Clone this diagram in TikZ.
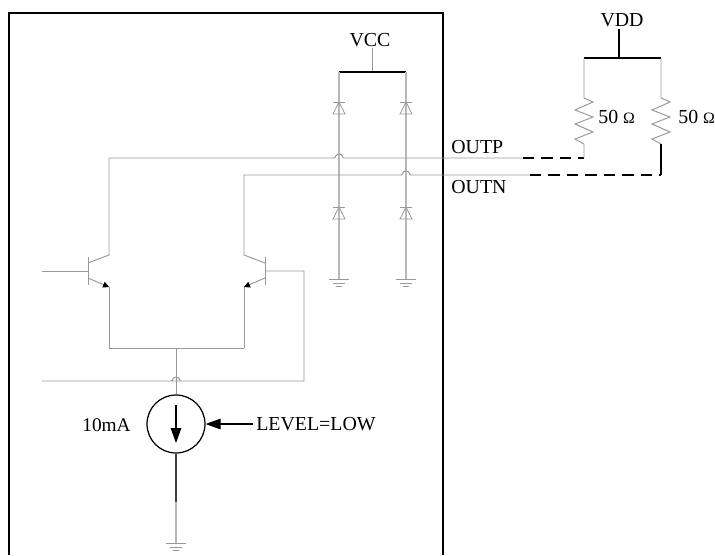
\documentclass[tikz,border=0pt]{standalone}
\usepackage{fontspec}
\setmainfont{Liberation Serif}
\usetikzlibrary{arrows.meta,calc}
\tikzset{
wire/.style={draw=black!40,line width=0.55pt},
rail/.style={draw=black!28,line width=0.9pt},
blackwire/.style={draw=black,line width=0.7pt},
dashwire/.style={draw=black,line width=0.7pt,dash pattern=on 6.5pt off 4pt},
framewire/.style={draw=black,line width=1.2pt},
lbl/.style={inner sep=0pt,font=\fontsize{11.3}{13}\selectfont},
emitter/.style={wire,-{Triangle[length=3.4pt,width=3.4pt,black]}},
diode/.pic={\draw[wire,line width=0.45pt] (-6,0) -- (6,0); \draw[wire,line width=0.45pt] (0,0) -- (-6,12) -- (6,12) -- cycle;},
gnd/.pic={\draw[wire,line width=0.45pt] (-10,0) -- (10,0) (-6,4) -- (6,4) (-3,7) -- (3,7);}
}
\newcommand{\hopover}[1]{-- ($(#1)+(-5,0)$) .. controls ($(#1)+(-3,0)$) and ($(#1)+(-4,-4)$) .. ($(#1)+(0,-4)$) .. controls ($(#1)+(4,-4)$) and ($(#1)+(3,0)$) .. ($(#1)+(5,0)$)}
\newcommand{\ohm}{{\fontsize{9}{11}\selectfont Ω}}
\begin{document}
\begin{tikzpicture}[x=0.02cm,y=-0.02cm]
\useasboundingbox (0,0) rectangle (715,555);
\coordinate (f1) at (9,555); \coordinate (f2) at (9,13); \coordinate (f3) at (443,13); \coordinate (f4) at (443,555);
\draw[framewire] (f1) -- (f2) -- (f3) -- (f4);

\node[lbl] (vcc) at (370,40) {VCC}; \node[lbl] (vdd) at (622,20) {VDD};
\node[lbl,anchor=west] (outp) at (451,147) {OUTP}; \node[lbl,anchor=west] (outn) at (451,187) {OUTN};
\node[lbl,anchor=west] (r1v) at (598,117) {50 \ohm}; \node[lbl,anchor=west] (r2v) at (678,117) {50 \ohm};
\node[lbl,anchor=west,font=\fontsize{11}{13}\selectfont] (ival) at (82,425) {10mA};
\node[lbl,anchor=west] (level) at (256,424) {LEVEL=LOW};
\node[draw,black,line width=0.7pt,circle,inner sep=0pt,minimum size=1.16cm] (src) at (176,424) {};

\coordinate (c1) at (372,48); \coordinate (c2) at (372,72); \coordinate (c3) at (339,72); \coordinate (c4) at (406,72);
\coordinate (g1) at (339,279); \coordinate (g2) at (406,279); \coordinate (g3) at (176,543); \coordinate (s1) at (176,502);
\draw[wire] (c1) -- (c2);
\draw[blackwire] (c3) -- (c4);
\draw[rail] (c3) -- (g1); \draw[rail] (c4) -- (g2);
\pic at (339,102) {diode}; \pic at (406,102) {diode}; \pic at (339,207) {diode}; \pic at (406,207) {diode};
\pic at (g1) {gnd}; \pic at (g2) {gnd}; \pic at (g3) {gnd};

\coordinate (q1b) at (88,271); \coordinate (q1i) at (42,271); \coordinate (q1t) at (88,257); \coordinate (q1d) at (88,285); \coordinate (q1c) at (88,263); \coordinate (q1e) at (88,278);
\coordinate (q1k) at (109,255); \coordinate (q1m) at (109,287); \coordinate (q1n) at (109,348); \coordinate (q1u) at (109,158);
\coordinate (q2b) at (265,271); \coordinate (q2t) at (265,257); \coordinate (q2d) at (265,285); \coordinate (q2c) at (265,263); \coordinate (q2e) at (265,278);
\coordinate (q2k) at (244,255); \coordinate (q2m) at (244,287); \coordinate (q2n) at (244,348); \coordinate (q2u) at (244,175);
\coordinate (h1) at (339,158); \coordinate (h2) at (406,175); \coordinate (h3) at (176,381);
\coordinate (p1) at (523,158); \coordinate (p2) at (584,158); \coordinate (n1) at (530,175); \coordinate (n2) at (661,175);
\coordinate (b1) at (304,271); \coordinate (b2) at (304,381); \coordinate (b3) at (42,381); \coordinate (j) at (176,348);

\draw[wire] (q1i) -- (q1b);
\draw[wire] (q1t) -- (q1d);
\draw[wire] (q1n) -- (q1m);
\draw[wire] (q1c) -- (q1k) -- (q1u) \hopover{h1} -- (p1);
\draw[emitter] (q1e) -- (q1m);
\draw[wire] (q2t) -- (q2d);
\draw[wire] (q2n) -- (q2m);
\draw[wire] (q2c) -- (q2k) -- (q2u) \hopover{h2} -- (n1);
\draw[emitter] (q2e) -- (q2m);
\draw[wire] (q1n) -- (q2n);
\draw[wire] (j) -- (src);
\draw[wire] (q2b) -- (b1) -- (b2) \hopover{h3} -- (b3);
\draw[dashwire] (p1) -- (p2);
\draw[dashwire] (n1) -- (n2);

\coordinate (d1) at (619,29); \coordinate (d2) at (619,58); \coordinate (d3) at (584,58); \coordinate (d4) at (661,58);
\coordinate (r1t) at (584,98); \coordinate (r1b) at (584,144); \coordinate (r2t) at (661,98); \coordinate (r2b) at (661,144);
\draw[blackwire] (d1) -- (d2);
\draw[blackwire] (d3) -- (d4);
\draw[wire] (d3) -- (r1t) -- ++(9,4) -- ++(-18,8) -- ++(18,7) -- ++(-18,7) -- ++(18,8) -- ++(-18,7) -- (r1b) -- (p2);
\draw[wire] (d4) -- (r2t) -- ++(9,4) -- ++(-18,8) -- ++(18,7) -- ++(-18,7) -- ++(18,8) -- ++(-18,7) -- (r2b);
\draw[blackwire] (r2b) -- (n2);

\coordinate (a1) at (176,405); \coordinate (a2) at (176,443); \coordinate (l1) at (253,424);
\draw[black,line width=0.7pt,-{Triangle[length=8.5pt,width=6pt]}] (a1) -- (a2);
\draw[black,line width=0.7pt,-{Triangle[length=8.5pt,width=6pt]}] (l1) -- (src);
\draw[black!75,line width=1pt] (src) -- (s1);
\draw[rail] (s1) -- (g3);
\end{tikzpicture}
\end{document}
